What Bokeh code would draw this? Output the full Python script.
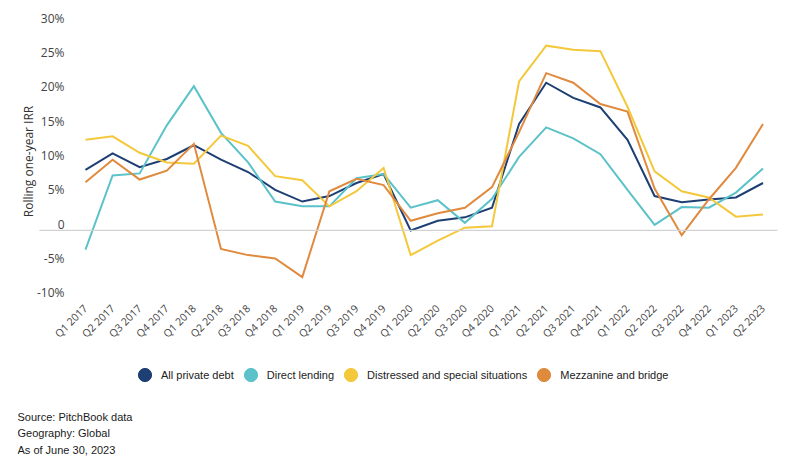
from math import pi
from bokeh.plotting import figure
from bokeh.layouts import column
from bokeh.models import Range1d, FixedTicker, BoxAnnotation, Legend, LegendItem, Label
from bokeh.embed import file_html
from bokeh.resources import INLINE

quarters = ["Q1 2017", "Q2 2017", "Q3 2017", "Q4 2017", "Q1 2018", "Q2 2018", "Q3 2018", "Q4 2018",
            "Q1 2019", "Q2 2019", "Q3 2019", "Q4 2019", "Q1 2020", "Q2 2020", "Q3 2020", "Q4 2020",
            "Q1 2021", "Q2 2021", "Q3 2021", "Q4 2021", "Q1 2022", "Q2 2022", "Q3 2022", "Q4 2022",
            "Q1 2023", "Q2 2023"]

all_private_debt = [8.8, 11.2, 9.2, 10.4, 12.4, 10.3, 8.5, 5.9, 4.2, 5.0, 6.9, 8.2,
                    0.0, 1.4, 1.9, 3.3, 15.5, 21.5, 19.3, 17.9, 13.2, 5.0, 4.1, 4.5, 4.8, 6.9]
direct_lending = [-2.8, 8.0, 8.3, 15.3, 21.0, 14.2, 9.9, 4.2, 3.5, 3.5, 7.6, 8.2,
                  3.3, 4.4, 1.1, 4.6, 10.7, 15.0, 13.4, 11.1, 5.9, 0.8, 3.4, 3.3, 5.5, 9.0]
distressed = [13.2, 13.7, 11.3, 9.9, 9.7, 13.8, 12.3, 7.9, 7.3, 3.5, 5.7, 9.1,
              -3.6, -1.5, 0.4, 0.6, 21.7, 26.9, 26.3, 26.1, 18.0, 8.6, 5.7, 4.8, 2.0, 2.3]
mezzanine = [7.0, 10.3, 7.4, 8.7, 12.6, -2.7, -3.6, -4.1, -6.8, 5.7, 7.5, 6.6,
             1.4, 2.5, 3.3, 6.3, 14.3, 22.9, 21.5, 18.4, 17.3, 6.1, -0.7, 4.5, 9.1, 15.5]

series_names = ["All private debt", "Direct lending", "Distressed and special situations",
                "Mezzanine and bridge"]
series_values = [all_private_debt, direct_lending, distressed, mezzanine]
series_colors = ["#1d3f74", "#5cc2c9", "#f4c83b", "#e08a3e"]

y_ticks = [-10, -5, 0, 5, 10, 15, 20, 25, 30]
y_tick_labels = ["-10%", "-5%", "0", "5%", "10%", "15%", "20%", "25%", "30%"]

notes = ["Source: PitchBook data", "Geography: Global", "As of June 30, 2023"]

x_idx = list(range(len(quarters)))

# ---- main chart ----
p = figure(frame_width=760, frame_height=285, output_backend="svg", toolbar_location=None,
           x_range=Range1d(-2.509, 25.535), y_range=Range1d(-10.5, 31),
           min_border_left=17, min_border_right=15, min_border_top=17, min_border_bottom=50)
p.outline_line_color = None
p.xgrid.visible = False
p.ygrid.visible = False
p.background_fill_color = "white"

# zero reference line, starting just left of the tick labels
p.add_layout(BoxAnnotation(bottom=0, top=0, left=22, left_units="screen",
                           fill_alpha=0, line_color="#d2d2d2", line_width=1, line_alpha=1))

for vals, col in zip(series_values, series_colors):
    p.line(x_idx, vals, line_color=col, line_width=2, line_join="miter")

xa = p.xaxis[0]
xa.ticker = FixedTicker(ticks=x_idx)
xa.major_label_overrides = {i: q for i, q in enumerate(quarters)}
xa.major_label_orientation = pi / 4
xa.axis_line_color = None
xa.major_tick_line_color = None
xa.minor_tick_line_color = None
xa.major_tick_out = 0
xa.major_tick_in = 0
xa.major_label_standoff = 4
xa.major_label_text_font = "Open Sans"
xa.major_label_text_font_size = "10.5px"
xa.major_label_text_color = "#444444"

ya = p.yaxis[0]
ya.ticker = FixedTicker(ticks=y_ticks)
# labels sit just above their value, as in the source chart
ya.major_label_overrides = {t: l + "\n" for t, l in zip(y_ticks, y_tick_labels)}
ya.axis_line_color = None
ya.major_tick_line_color = None
ya.minor_tick_line_color = None
ya.major_tick_out = 0
ya.major_tick_in = 0
ya.major_label_standoff = -47
ya.major_label_text_font = "Open Sans"
ya.major_label_text_font_size = "12px"
ya.major_label_text_line_height = 0.72
ya.major_label_text_color = "#444444"

p.add_layout(Label(x=11, y=141, x_units="screen", y_units="screen", angle=pi / 2,
                   text="Rolling one-year IRR", text_align="center", text_baseline="middle",
                   text_font="Open Sans", text_font_size="12px", text_color="#333333"))

# ---- legend and notes strip ----
p2 = figure(width=792, height=107, output_backend="svg", toolbar_location=None,
            x_range=Range1d(0, 1), y_range=Range1d(100, 101),
            min_border_left=17, min_border_right=15, min_border_top=0, min_border_bottom=0,
            x_axis_type=None, y_axis_type=None)
p2.outline_line_color = None
p2.xgrid.visible = False
p2.ygrid.visible = False

leg_items = []
for name, vals, col in zip(series_names, series_values, series_colors):
    r = p2.scatter(x=x_idx, y=vals, size=0, marker="circle", fill_color=col, line_color=col)
    leg_items.append(LegendItem(label=name, renderers=[r]))
legend = Legend(items=leg_items, orientation="horizontal", location=(111, 68),
                glyph_width=33, glyph_height=33, label_standoff=-2, spacing=-1,
                padding=0, margin=0, border_line_color=None, background_fill_alpha=0,
                label_text_font="Liberation Sans", label_text_font_size="11px",
                label_text_color="#222222")
p2.add_layout(legend, "center")

note_y = [43, 26.5, 10]
for t, yy in zip(notes, note_y):
    p2.add_layout(Label(x=0, y=yy, x_units="screen", y_units="screen", text=t,
                        text_baseline="middle", text_font="Liberation Sans",
                        text_font_size="11px", text_color="#1a1a1a"))

layout = column(p, p2, spacing=0)
open("out.html", "w").write(file_html(layout, INLINE))
